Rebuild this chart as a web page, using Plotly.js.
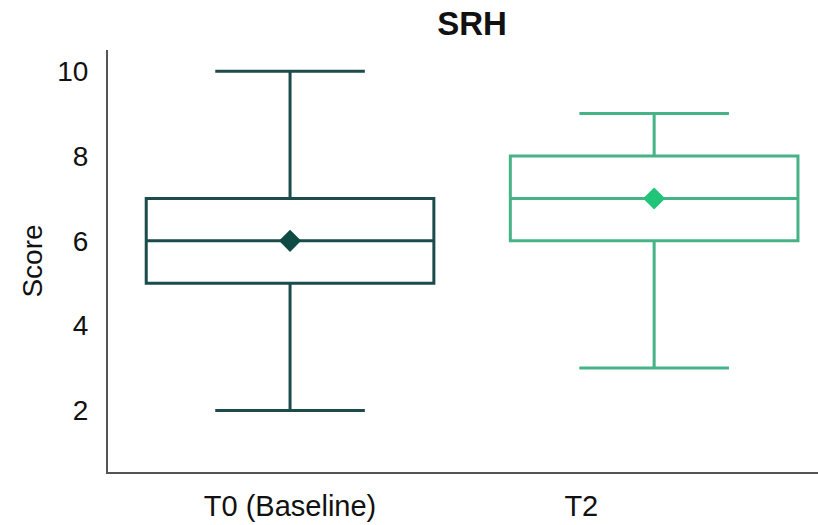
<!DOCTYPE html>
<html>
<head>
<meta charset="utf-8">
<script src="https://cdn.plot.ly/plotly-3.0.1.min.js"></script>
<style>html,body{margin:0;padding:0;background:#fff;}#chart{width:818px;height:525px;}</style>
</head>
<body>
<div id="chart"></div>
<script>
const categories = ['T0 (Baseline)', 'T2'];
const minVals = [2, 3];
const q1Vals = [5, 6];
const medianVals = [6, 7];
const q3Vals = [7, 8];
const maxVals = [10, 9];
const meanVals = [6, 7];
const lineColors = ['#1b4b4b', '#46b386'];
const meanColors = ['#0f4a44', '#22c47a'];

const traces = [];
categories.forEach((c, i) => {
  traces.push({
    type: 'box',
    x: [c],
    q1: [q1Vals[i]],
    median: [medianVals[i]],
    q3: [q3Vals[i]],
    lowerfence: [minVals[i]],
    upperfence: [maxVals[i]],
    width: 0.79,
    whiskerwidth: 0.52,
    fillcolor: 'rgba(255,255,255,0)',
    line: {color: lineColors[i], width: 3},
    showlegend: false,
    hoverinfo: 'skip'
  });
  traces.push({
    type: 'scatter',
    mode: 'markers',
    x: [c],
    y: [meanVals[i]],
    marker: {symbol: 'diamond', size: 17, color: meanColors[i]},
    showlegend: false,
    hoverinfo: 'skip'
  });
});

const layout = {
  width: 818,
  height: 525,
  margin: {l: 108, r: 0, t: 50, b: 53},
  paper_bgcolor: '#fff',
  plot_bgcolor: '#fff',
  font: {family: 'Liberation Sans, Arial, sans-serif', color: '#111'},
  title: {text: '<b>SRH</b>', font: {size: 33, color: '#111'}, x: 0.577, xanchor: 'center', y: 0.955, yanchor: 'middle'},
  xaxis: {
    type: 'category',
    categoryarray: categories,
    range: [-0.5, 1.45],
    tickmode: 'array',
    tickvals: [0, 0.80],
    ticktext: categories,
    showgrid: false,
    zeroline: false,
    showline: true,
    linecolor: '#555',
    linewidth: 2,
    ticks: '',
    ticklabelstandoff: 7,
    tickfont: {size: 29, color: '#111'}
  },
  yaxis: {
    range: [0.55, 10.5],
    tickvals: [2, 4, 6, 8, 10],
    showgrid: false,
    zeroline: false,
    showline: true,
    linecolor: '#555',
    linewidth: 2,
    ticks: '',
    ticklabelstandoff: 12,
    tickfont: {size: 28, color: '#111'},
    title: {text: 'Score', font: {size: 28, color: '#111'}, standoff: 6}
  }
};

Plotly.newPlot('chart', traces, layout, {displayModeBar: false, staticPlot: true});
</script>
</body>
</html>
